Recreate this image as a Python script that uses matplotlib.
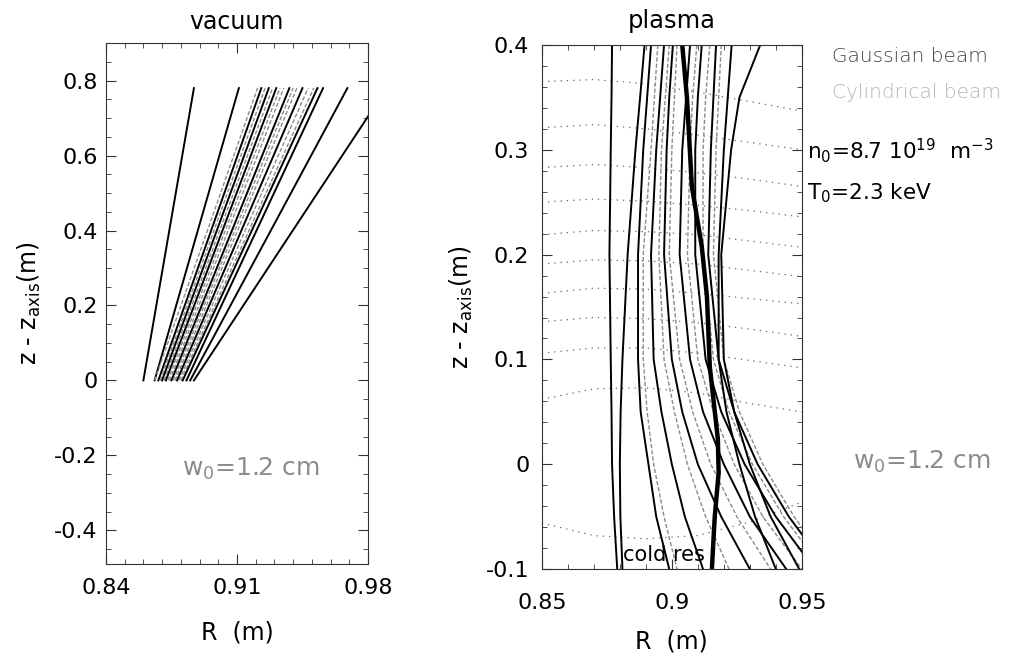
import matplotlib
matplotlib.use("Agg")
import matplotlib.pyplot as plt
from matplotlib.ticker import MultipleLocator

# ---------------- data ----------------
# vacuum panel: straight rays, R at z = 0 and at z = 0.78
vac_z = [0.0, 0.78]
vac_R_bottom = [0.860, 0.866, 0.866, 0.868, 0.869, 0.870, 0.871, 0.872, 0.873, 0.874,
                0.875, 0.876, 0.877, 0.878, 0.879, 0.880, 0.881, 0.883, 0.885, 0.887]
vac_R_top = [0.887, 0.911, 0.921, 0.923, 0.925, 0.927, 0.929, 0.931, 0.933, 0.935,
             0.938, 0.940, 0.942, 0.945, 0.948, 0.951, 0.953, 0.956, 0.969, 0.990]
vac_kind = ['g', 'g', 'c', 'g', 'c', 'g', 'c', 'g', 'c', 'c',
            'g', 'c', 'c', 'g', 'c', 'c', 'g', 'g', 'g', 'g']

# plasma panel: R of each ray at fixed heights
pl_z = [0.4, 0.35, 0.3, 0.2, 0.1, 0.05, 0.0, -0.05, -0.1]
pl_rays = [
    [0.877, 0.8768, 0.8765, 0.876, 0.8765, 0.8768, 0.877, 0.8778, 0.879],
    [0.8895, 0.8878, 0.886, 0.883, 0.881, 0.8803, 0.880, 0.8802, 0.881],
    [0.892, 0.8905, 0.889, 0.887, 0.887, 0.888, 0.891, 0.894, 0.899],
    [0.8946, 0.8933, 0.892, 0.889, 0.889, 0.8905, 0.893, 0.897, 0.902],
    [0.897, 0.8955, 0.894, 0.892, 0.893, 0.896, 0.900, 0.905, 0.912],
    [0.899, 0.8975, 0.896, 0.895, 0.897, 0.901, 0.906, 0.913, 0.922],
    [0.9004, 0.899, 0.898, 0.897, 0.900, 0.904, 0.910, 0.919, 0.930],
    [0.902, 0.901, 0.900, 0.899, 0.903, 0.908, 0.915, 0.925, 0.938],
    [0.907, 0.9055, 0.904, 0.903, 0.907, 0.912, 0.920, 0.930, 0.944],
    [0.9096, 0.908, 0.907, 0.906, 0.910, 0.916, 0.924, 0.935, 0.950],
    [0.9115, 0.910, 0.909, 0.909, 0.913, 0.919, 0.928, 0.940, 0.955],
    [0.9146, 0.913, 0.912, 0.912, 0.916, 0.922, 0.931, 0.943, 0.958],
    [0.917, 0.916, 0.915, 0.914, 0.918, 0.924, 0.933, 0.945, 0.960],
    [0.919, 0.918, 0.917, 0.916, 0.920, 0.926, 0.935, 0.947, 0.962],
    [0.923, 0.9215, 0.920, 0.918, 0.918, 0.921, 0.926, 0.932, 0.940],
    [0.934, 0.926, 0.9228, 0.919, 0.920, 0.924, 0.930, 0.938, 0.949],
]
pl_kind = ['g', 'g', 'g', 'c', 'g', 'c', 'g', 'c', 'g', 'c', 'g', 'c', 'g', 'c', 'g', 'g']

# cold resonance curve
res_z = [0.4, 0.35, 0.265, 0.208, 0.16, 0.093, 0.024, -0.008, -0.05, -0.1]
res_R = [0.904, 0.9058, 0.9077, 0.9115, 0.9135, 0.9146, 0.9177, 0.918, 0.9165, 0.9154]

# flux surfaces (dotted): z at fixed R
flux_R = [0.85, 0.87, 0.89, 0.91, 0.93, 0.95]
flux_z = [
    [0.365, 0.367, 0.363, 0.355, 0.346, 0.337],
    [0.321, 0.324, 0.320, 0.314, 0.307, 0.300],
    [0.283, 0.286, 0.283, 0.278, 0.272, 0.265],
    [0.250, 0.253, 0.251, 0.247, 0.242, 0.236],
    [0.219, 0.223, 0.222, 0.219, 0.213, 0.207],
    [0.191, 0.195, 0.194, 0.191, 0.185, 0.179],
    [0.163, 0.168, 0.167, 0.163, 0.158, 0.153],
    [0.136, 0.140, 0.139, 0.135, 0.129, 0.122],
    [0.106, 0.111, 0.111, 0.106, 0.099, 0.092],
    [0.062, 0.072, 0.073, 0.068, 0.058, 0.050],
    [-0.056, -0.068, -0.071, -0.068, -0.055, -0.036],
]

vac_xticks = [0.84, 0.91, 0.98]
vac_yticks = [-0.4, -0.2, 0, 0.2, 0.4, 0.6, 0.8]
pl_xticks = [0.85, 0.9, 0.95]
pl_yticks = [-0.1, 0, 0.1, 0.2, 0.3, 0.4]

# ---------------- figure ----------------
fig = plt.figure(figsize=(10.09, 6.61), dpi=100)
ax1 = fig.add_axes([0.105, 0.1467, 0.2597, 0.788])
ax2 = fig.add_axes([0.537, 0.139, 0.2577, 0.793])

style = {'g': dict(color='black', lw=1.4, ls='-'),
         'c': dict(color='#8a8a8a', lw=1.0, ls=(0, (3, 1.5)))}

for rb, rt, k in zip(vac_R_bottom, vac_R_top, vac_kind):
    ax1.plot([rb, rt], vac_z, **style[k])

for zs in flux_z:
    ax2.plot(flux_R, zs, color='#666666', lw=0.9, ls=(0, (1, 4)))
for r, k in zip(pl_rays, pl_kind):
    ax2.plot(r, pl_z, **style[k])
ax2.plot(res_R, res_z, color='black', lw=3.2)

ax1.set_xlim(0.84, 0.98)
ax1.set_ylim(-0.49, 0.90)
ax2.set_xlim(0.85, 0.95)
ax2.set_ylim(-0.1, 0.4)

ax1.set_xticks(vac_xticks)
ax1.set_xticklabels(['0.84', '0.91', '0.98'])
ax1.set_yticks(vac_yticks)
ax1.set_yticklabels(['-0.4', '-0.2', '0', '0.2', '0.4', '0.6', '0.8'])
ax2.set_xticks(pl_xticks)
ax2.set_xticklabels(['0.85', '0.9', '0.95'])
ax2.set_yticks(pl_yticks)
ax2.set_yticklabels(['-0.1', '0', '0.1', '0.2', '0.3', '0.4'])
ax1.xaxis.set_minor_locator(MultipleLocator(0.01))
ax1.yaxis.set_minor_locator(MultipleLocator(0.05))
ax2.xaxis.set_minor_locator(MultipleLocator(0.01))
ax2.yaxis.set_minor_locator(MultipleLocator(0.02))

for ax in (ax1, ax2):
    ax.tick_params(which='both', direction='in', top=True, right=True,
                   labelsize=16, color='#333333')
    ax.tick_params(which='major', length=7, width=0.8)
    ax.tick_params(which='minor', length=3.5, width=0.6)
    for s in ax.spines.values():
        s.set_linewidth(0.8)
        s.set_color('#333333')
    ax.set_ylabel('z - z$_{\\mathrm{axis}}$(m)', fontsize=17, labelpad=8)

ax1.tick_params(axis='x', pad=10)
ax1.tick_params(axis='y', pad=6)
ax2.tick_params(axis='x', pad=17)
ax2.tick_params(axis='y', pad=9)
ax1.set_xlabel('R  (m)', fontsize=17, labelpad=16)
ax2.set_xlabel('R  (m)', fontsize=17, labelpad=12)

ax1.set_title('vacuum', fontsize=17, pad=10)
ax2.set_title('plasma', fontsize=17.5, pad=12)

ax1.text(0.9175, -0.237, 'w$_{\\mathrm{0}}$=1.2 cm', fontsize=18, color='#8c8c8c',
         ha='center', va='center')
ax2.text(0.8812, -0.087, 'cold res', fontsize=15, color='black', ha='left', va='center')

fig.text(0.825, 0.914, 'Gaussian beam', fontsize=14.5, color='#444444', va='center',
         fontweight='light')
fig.text(0.825, 0.860, 'Cylindrical beam', fontsize=14.5, color='#b5b5b5', va='center',
         fontweight='light')
fig.text(0.800, 0.772, 'n$_{\\mathrm{0}}$=8.7 10$^{\\mathrm{19}}$  m$^{\\mathrm{-3}}$',
         fontsize=15.5, color='black', va='center')
fig.text(0.800, 0.708, 'T$_{\\mathrm{0}}$=2.3 keV', fontsize=15.5, color='black', va='center')
fig.text(0.845, 0.301, 'w$_{\\mathrm{0}}$=1.2 cm', fontsize=18, color='#8c8c8c', va='center')

fig.savefig('out.png', dpi=100, facecolor='white')
